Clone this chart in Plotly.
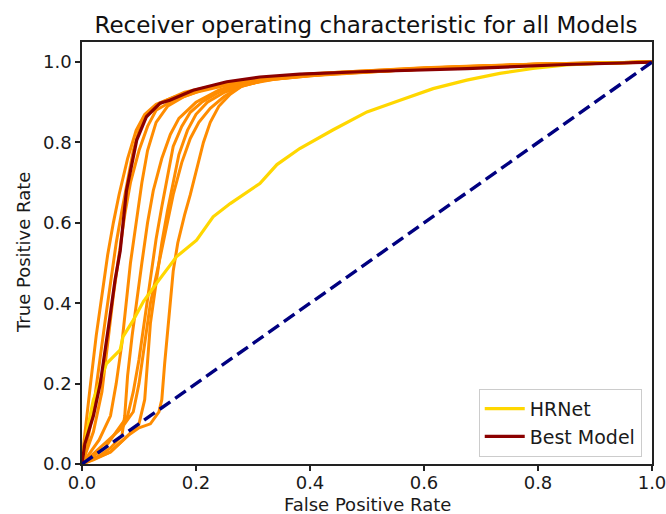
import plotly.graph_objects as go

# ---------------- data ----------------
# Orange curves: the individual models
O1_FPR = [0, 0.003, 0.015, 0.025, 0.035, 0.045, 0.055, 0.065, 0.08, 0.095, 0.11, 0.13, 0.16, 0.2, 0.25, 0.3, 0.4, 0.5, 0.6, 0.7, 0.8, 0.9, 1.0]
O1_TPR = [0, 0.05, 0.2, 0.32, 0.42, 0.52, 0.6, 0.67, 0.76, 0.83, 0.87, 0.895, 0.912, 0.93, 0.946, 0.957, 0.971, 0.979, 0.986, 0.991, 0.995, 0.998, 1.0]

O2_FPR = [0, 0.01, 0.02, 0.03, 0.04, 0.05, 0.06, 0.07, 0.08, 0.09, 0.1, 0.115, 0.14, 0.18, 0.25, 0.35, 0.45, 0.6, 0.75, 0.9, 1.0]
O2_TPR = [0, 0.06, 0.14, 0.25, 0.35, 0.45, 0.55, 0.63, 0.71, 0.78, 0.83, 0.87, 0.9, 0.925, 0.947, 0.965, 0.975, 0.985, 0.992, 0.997, 1.0]

O3_FPR = [0, 0.02, 0.035, 0.045, 0.055, 0.065, 0.075, 0.085, 0.1, 0.115, 0.13, 0.16, 0.2, 0.26, 0.35, 0.45, 0.6, 0.75, 0.9, 1.0]
O3_TPR = [0, 0.08, 0.18, 0.3, 0.42, 0.52, 0.62, 0.7, 0.78, 0.84, 0.88, 0.905, 0.925, 0.945, 0.962, 0.973, 0.983, 0.991, 0.997, 1.0]

O4_FPR = [0, 0.03, 0.05, 0.06, 0.07, 0.078, 0.085, 0.095, 0.105, 0.115, 0.13, 0.15, 0.18, 0.23, 0.3, 0.4, 0.55, 0.7, 0.85, 1.0]
O4_TPR = [0, 0.06, 0.12, 0.2, 0.3, 0.4, 0.5, 0.6, 0.7, 0.78, 0.85, 0.89, 0.915, 0.94, 0.957, 0.969, 0.98, 0.989, 0.995, 1.0]

O5_FPR = [0, 0.03, 0.05, 0.07, 0.075, 0.08, 0.088, 0.095, 0.105, 0.115, 0.125, 0.14, 0.155, 0.17, 0.2, 0.24, 0.28, 0.35, 0.5, 0.65, 0.8, 1.0]
O5_TPR = [0, 0.02, 0.04, 0.07, 0.12, 0.22, 0.32, 0.4, 0.5, 0.6, 0.68, 0.76, 0.82, 0.86, 0.9, 0.93, 0.95, 0.963, 0.977, 0.988, 0.995, 1.0]

O6_FPR = [0, 0.04, 0.06, 0.08, 0.09, 0.1, 0.11, 0.12, 0.13, 0.14, 0.15, 0.16, 0.175, 0.19, 0.21, 0.24, 0.28, 0.33, 0.45, 0.6, 0.8, 1.0]
O6_TPR = [0, 0.04, 0.08, 0.12, 0.18, 0.26, 0.36, 0.46, 0.56, 0.64, 0.72, 0.79, 0.84, 0.875, 0.9, 0.925, 0.945, 0.958, 0.973, 0.984, 0.995, 1.0]

O7_FPR = [0, 0.05, 0.08, 0.1, 0.11, 0.115, 0.12, 0.13, 0.14, 0.15, 0.16, 0.17, 0.185, 0.2, 0.22, 0.25, 0.29, 0.34, 0.45, 0.6, 0.8, 1.0]
O7_TPR = [0, 0.03, 0.07, 0.1, 0.16, 0.25, 0.35, 0.45, 0.55, 0.63, 0.7, 0.77, 0.83, 0.87, 0.9, 0.925, 0.945, 0.958, 0.972, 0.983, 0.995, 1.0]

O8_FPR = [0, 0.04, 0.07, 0.09, 0.1, 0.11, 0.12, 0.135, 0.15, 0.16, 0.175, 0.19, 0.205, 0.225, 0.25, 0.28, 0.32, 0.4, 0.55, 0.7, 0.85, 1.0]
O8_TPR = [0, 0.05, 0.09, 0.13, 0.2, 0.3, 0.4, 0.5, 0.6, 0.67, 0.75, 0.81, 0.85, 0.885, 0.915, 0.94, 0.955, 0.967, 0.979, 0.989, 0.996, 1.0]

O9_FPR = [0, 0.02, 0.05, 0.08, 0.1, 0.12, 0.135, 0.14, 0.145, 0.15, 0.155, 0.16, 0.168, 0.18, 0.19, 0.2, 0.213, 0.225, 0.24, 0.26, 0.28, 0.32, 0.4, 0.55, 0.7, 0.85, 1.0]
O9_TPR = [0, 0.01, 0.03, 0.07, 0.09, 0.1, 0.13, 0.16, 0.25, 0.33, 0.42, 0.48, 0.55, 0.62, 0.67, 0.73, 0.8, 0.85, 0.89, 0.92, 0.94, 0.955, 0.966, 0.979, 0.989, 0.996, 1.0]

ORANGE_CURVES = [
    (O1_FPR, O1_TPR), (O2_FPR, O2_TPR), (O3_FPR, O3_TPR), (O4_FPR, O4_TPR),
    (O5_FPR, O5_TPR), (O6_FPR, O6_TPR), (O7_FPR, O7_TPR), (O8_FPR, O8_TPR),
    (O9_FPR, O9_TPR),
]

# HRNet (gold)
HRNET_FPR = [0, 0.008, 0.02, 0.043, 0.067, 0.072, 0.09, 0.108, 0.131, 0.166, 0.201, 0.23, 0.26, 0.312, 0.342, 0.382, 0.44, 0.5, 0.558, 0.616, 0.675, 0.733, 0.791, 0.85, 0.92, 1.0]
HRNET_TPR = [0, 0.076, 0.16, 0.25, 0.284, 0.317, 0.358, 0.405, 0.45, 0.516, 0.557, 0.615, 0.648, 0.698, 0.745, 0.785, 0.831, 0.876, 0.905, 0.934, 0.955, 0.972, 0.984, 0.993, 0.998, 1.0]

# Best Model (dark red)
BEST_FPR = [0, 0.005, 0.02, 0.032, 0.049, 0.058, 0.067, 0.078, 0.096, 0.113, 0.137, 0.154, 0.195, 0.254, 0.312, 0.382, 0.488, 0.675, 0.85, 1.0]
BEST_TPR = [0, 0.05, 0.12, 0.2, 0.366, 0.458, 0.53, 0.68, 0.806, 0.864, 0.898, 0.905, 0.93, 0.951, 0.963, 0.97, 0.976, 0.984, 0.994, 1.0]

# Chance line
CHANCE_X = [0, 1]
CHANCE_Y = [0, 1]

X_TICKS = [0.0, 0.2, 0.4, 0.6, 0.8, 1.0]
Y_TICKS = [0.0, 0.2, 0.4, 0.6, 0.8, 1.0]
TICK_TEXT = ["0.0", "0.2", "0.4", "0.6", "0.8", "1.0"]

# ---------------- figure ----------------
FONT = "DejaVu Sans"
TXT = "#1a1a1a"
fig = go.Figure()

for fpr, tpr in ORANGE_CURVES:
    fig.add_trace(go.Scatter(x=fpr, y=tpr, mode="lines",
                             line=dict(color="#FF8C00", width=3),
                             showlegend=False, hoverinfo="skip"))

fig.add_trace(go.Scatter(x=HRNET_FPR, y=HRNET_TPR, mode="lines", name="HRNet",
                         line=dict(color="#FFD700", width=3.2)))
fig.add_trace(go.Scatter(x=BEST_FPR, y=BEST_TPR, mode="lines", name="Best Model",
                         line=dict(color="#8B0000", width=3.2)))
fig.add_trace(go.Scatter(x=CHANCE_X, y=CHANCE_Y, mode="lines", showlegend=False,
                         line=dict(color="#000080", width=3.4, dash="13px,6px")))

axis_common = dict(showgrid=False, zeroline=False, showline=True, linecolor="#222",
                   linewidth=1.5, mirror=True, ticks="outside", ticklen=5, tickwidth=1.5,
                   tickcolor="#222", automargin=False, ticklabeloverflow="allow",
                   tickfont=dict(family=FONT, size=18, color=TXT))

fig.update_xaxes(range=[0, 1], tickvals=X_TICKS, ticktext=TICK_TEXT,
                 ticklabelstandoff=-3, **axis_common)
fig.update_yaxes(range=[0, 1.05], tickvals=Y_TICKS, ticktext=TICK_TEXT, **axis_common)

fig.update_layout(
    width=666, height=514,
    margin=dict(l=82, r=14, t=42, b=50),
    paper_bgcolor="white", plot_bgcolor="white",
    title=dict(text="Receiver operating characteristic for all Models",
               font=dict(family=FONT, size=23, color="#111"),
               x=366 / 666, xanchor="center", y=1 - 25 / 514, yanchor="middle"),
    legend=dict(x=0.982, y=0.017, xanchor="right", yanchor="bottom",
                bgcolor="rgba(255,255,255,0.8)", bordercolor="#cccccc", borderwidth=1,
                font=dict(family=FONT, size=19, color=TXT),
                itemwidth=40, tracegroupgap=0),
    showlegend=True,
    annotations=[
        dict(text="False Positive Rate", xref="paper", yref="paper",
             x=0.5, y=(464 - 504) / 422, xanchor="center", yanchor="middle",
             showarrow=False, font=dict(family=FONT, size=18, color=TXT)),
        dict(text="True Positive Rate", xref="paper", yref="paper",
             x=(23 - 82) / 570, y=0.5, xanchor="center", yanchor="middle",
             textangle=-90, showarrow=False, font=dict(family=FONT, size=18, color=TXT)),
    ],
)

fig.write_html("out.html")
